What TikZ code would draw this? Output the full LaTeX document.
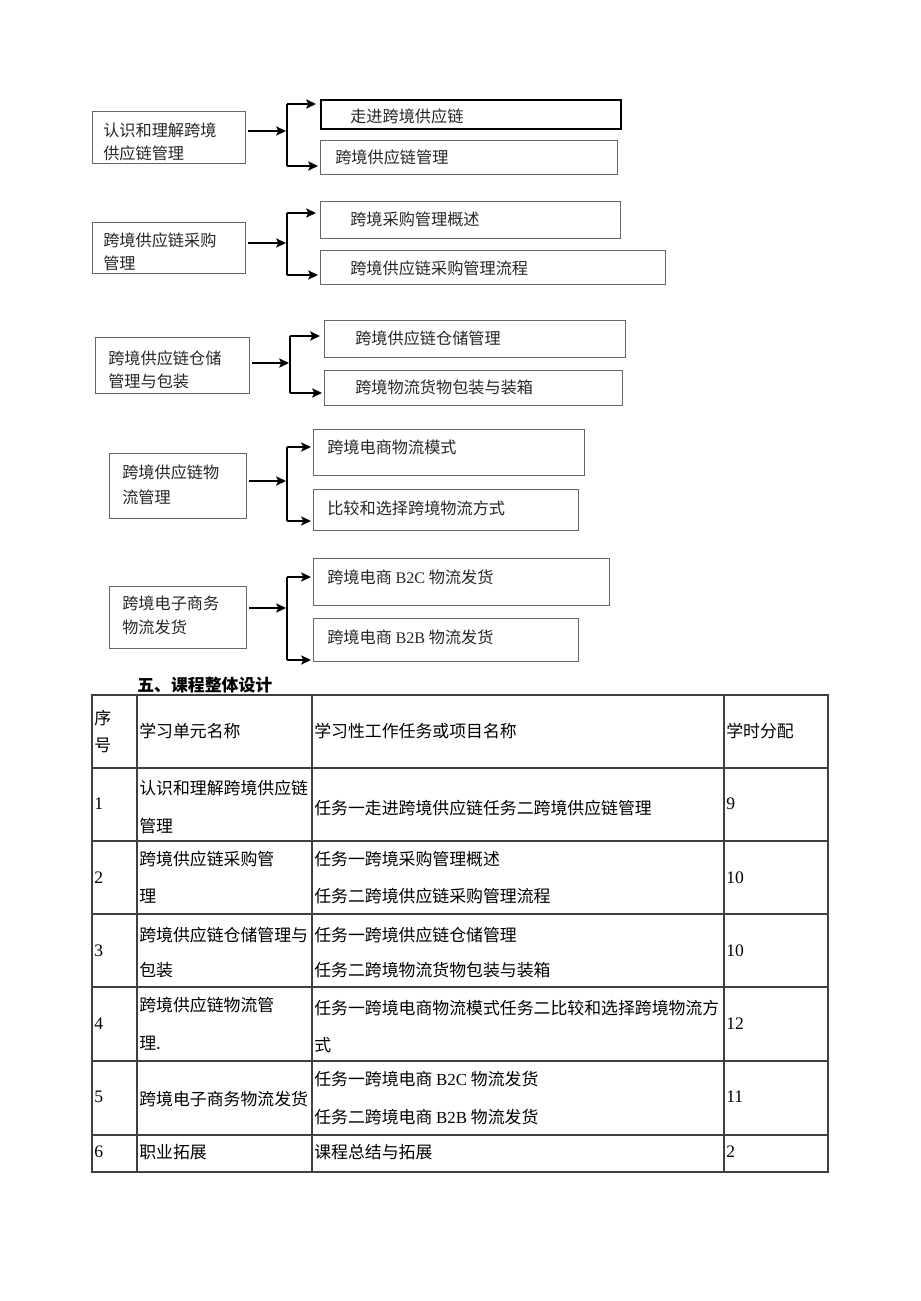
\documentclass[tikz,border=0pt]{standalone}
\usepackage{fontspec}
\setmainfont{Liberation Serif}
\newfontfamily\cjk{Noto Sans CJK SC}
\usetikzlibrary{arrows.meta,positioning}

\begin{document}
\begin{tikzpicture}[x=0.025cm,y=-0.025cm]
\tikzstyle{caja}=[draw=black!60, line width=0.8pt, anchor=north west, inner sep=0pt]
\tikzstyle{dim}=[minimum width=#1*0.025cm]
\tikzstyle{alto}=[minimum height=#1*0.025cm]
\tikzstyle{txt}=[anchor=west, inner sep=0pt, font=\cjk\fontsize{11.5}{13}\selectfont, text=black!85]
\tikzstyle{celda}=[anchor=west, inner sep=0pt, font=\cjk\fontsize{12}{14}\selectfont]
\tikzstyle{num}=[anchor=west, inner sep=0pt, font=\rmfamily\fontsize{12.5}{14}\selectfont]
\tikzstyle{flecha}=[-{Stealth[length=7pt,width=6.5pt,inset=1.5pt]}, line width=1.1pt]
\tikzstyle{llave}=[line width=1.1pt]
\tikzstyle{tabla}=[draw=black!75, line width=0.8pt]

\useasboundingbox (0,0) rectangle (920,1301);

%%%%%%%%%%%%%%%%%%%%%%%%%%%%%%
%%%%% MAPA DE UNIDADES

%%%%% UNIDAD 1
\node[caja, dim=153, alto=52] (u_1) at (92,111) {};
\node[txt] (u_1a) at (103,130) {认识和理解跨境};
\node[txt] (u_1b) at (103,153) {供应链管理};
\node[caja, dim=300, alto=29, draw=black, line width=1.3pt] (t_11) at (320,99) {};
\node[txt] (t_11a) at (350,116) {走进跨境供应链};
\node[caja, dim=297, alto=34] (t_12) at (320,140) {};
\node[txt] (t_12a) at (335,157) {跨境供应链管理};

\coordinate (a_1) at (248,131);
\coordinate (j_1) at (286,131);
\coordinate (b_1) at (287,104);
\coordinate (c_1) at (287,166);
\draw[flecha] (a_1) -- (j_1);
\draw[llave] (b_1) -- (c_1);
\draw[flecha] (b_1) -- ([xshift=-0.1cm]b_1 -| t_11.west);
\draw[flecha] (c_1) -- ([xshift=-0.05cm]c_1 -| t_12.west);

%%%%% UNIDAD 2
\node[caja, dim=153, alto=51] (u_2) at (92,222) {};
\node[txt] (u_2a) at (103,240) {跨境供应链采购};
\node[txt] (u_2b) at (103,263) {管理};
\node[caja, dim=300, alto=37] (t_21) at (320,201) {};
\node[txt] (t_21a) at (350,219) {跨境采购管理概述};
\node[caja, dim=345, alto=34] (t_22) at (320,250) {};
\node[txt] (t_22a) at (350,268) {跨境供应链采购管理流程};

\coordinate (a_2) at (248,243);
\coordinate (j_2) at (286,243);
\coordinate (b_2) at (287,213);
\coordinate (c_2) at (287,275);
\draw[flecha] (a_2) -- (j_2);
\draw[llave] (b_2) -- (c_2);
\draw[flecha] (b_2) -- ([xshift=-0.1cm]b_2 -| t_21.west);
\draw[flecha] (c_2) -- ([xshift=-0.05cm]c_2 -| t_22.west);

%%%%% UNIDAD 3
\node[caja, dim=154, alto=56] (u_3) at (95,337) {};
\node[txt] (u_3a) at (108,358) {跨境供应链仓储};
\node[txt] (u_3b) at (108,381) {管理与包装};
\node[caja, dim=301, alto=37] (t_31) at (324,320) {};
\node[txt] (t_31a) at (355,338) {跨境供应链仓储管理};
\node[caja, dim=298, alto=35] (t_32) at (324,370) {};
\node[txt] (t_32a) at (355,387) {跨境物流货物包装与装箱};

\coordinate (a_3) at (252,363);
\coordinate (j_3) at (289,363);
\coordinate (b_3) at (290,336);
\coordinate (c_3) at (290,393);
\draw[flecha] (a_3) -- (j_3);
\draw[llave] (b_3) -- (c_3);
\draw[flecha] (b_3) -- ([xshift=-0.1cm]b_3 -| t_31.west);
\draw[flecha] (c_3) -- ([xshift=-0.05cm]c_3 -| t_32.west);

%%%%% UNIDAD 4
\node[caja, dim=137, alto=65] (u_4) at (109,453) {};
\node[txt] (u_4a) at (122,472) {跨境供应链物};
\node[txt] (u_4b) at (122,497) {流管理};
\node[caja, dim=271, alto=46] (t_41) at (313,429) {};
\node[txt] (t_41a) at (327,447) {跨境电商物流模式};
\node[caja, dim=265, alto=41] (t_42) at (313,489) {};
\node[txt] (t_42a) at (327,508) {比较和选择跨境物流方式};

\coordinate (a_4) at (249,481);
\coordinate (j_4) at (286,481);
\coordinate (b_4) at (287,447);
\coordinate (c_4) at (287,521);
\draw[flecha] (a_4) -- (j_4);
\draw[llave] (b_4) -- (c_4);
\draw[flecha] (b_4) -- ([xshift=-0.05cm]b_4 -| t_41.west);
\draw[flecha] (c_4) -- ([xshift=-0.05cm]c_4 -| t_42.west);

%%%%% UNIDAD 5
\node[caja, dim=137, alto=62] (u_5) at (109,586) {};
\node[txt] (u_5a) at (122,603) {跨境电子商务};
\node[txt] (u_5b) at (122,627) {物流发货};
\node[caja, dim=296, alto=47] (t_51) at (313,558) {};
\node[txt] (t_51a) at (327,577) {跨境电商 {\rmfamily B2C} 物流发货};
\node[caja, dim=265, alto=43] (t_52) at (313,618) {};
\node[txt] (t_52a) at (327,637) {跨境电商 {\rmfamily B2B} 物流发货};

\coordinate (a_5) at (249,608);
\coordinate (j_5) at (286,608);
\coordinate (b_5) at (287,577);
\coordinate (c_5) at (287,660);
\draw[flecha] (a_5) -- (j_5);
\draw[llave] (b_5) -- (c_5);
\draw[flecha] (b_5) -- ([xshift=-0.05cm]b_5 -| t_51.west);
\draw[flecha] (c_5) -- ([xshift=-0.05cm]c_5 -| t_52.west);

%%%%%%%%%%%%%%%%%%%%%%%%%%%%%%
%%%%% DISEÑO DEL CURSO
\node[celda, font=\cjk\bfseries\fontsize{12}{14}\selectfont] (titulo) at (137,685) {五、课程整体设计};

%%%%% REJILLA
\draw[tabla] (92,695) rectangle (828,1172);
\draw[tabla] (137,695) -- (137,1172);
\draw[tabla] (312,695) -- (312,1172);
\draw[tabla] (724,695) -- (724,1172);
\draw[tabla] (92,768) -- (828,768);
\draw[tabla] (92,841) -- (828,841);
\draw[tabla] (92,914) -- (828,914);
\draw[tabla] (92,987) -- (828,987);
\draw[tabla] (92,1061) -- (828,1061);
\draw[tabla] (92,1135) -- (828,1135);

%%%%% CABECERA
\node[celda] (h_1a) at (94,718) {序};
\node[celda] (h_1b) at (94,745) {号};
\node[celda] (h_2) at (139,731) {学习单元名称};
\node[celda] (h_3) at (314,731) {学习性工作任务或项目名称};
\node[celda] (h_4) at (726,731) {学时分配};

%%%%% FILA 1
\node[num] (n_1) at (94,804) {1};
\node[celda] (r_1a) at (139,788) {认识和理解跨境供应链};
\node[celda] (r_1b) at (139,826) {管理};
\node[celda] (s_1a) at (314,808) {任务一走进跨境供应链任务二跨境供应链管理};
\node[num] (h_1) at (726,804) {9};

%%%%% FILA 2
\node[num] (n_2) at (94,878) {2};
\node[celda] (r_2a) at (139,859) {跨境供应链采购管};
\node[celda] (r_2b) at (139,896) {理};
\node[celda] (s_2a) at (314,859) {任务一跨境采购管理概述};
\node[celda] (s_2b) at (314,896) {任务二跨境供应链采购管理流程};
\node[num] (h_2n) at (726,878) {10};

%%%%% FILA 3
\node[num] (n_3) at (94,951) {3};
\node[celda] (r_3a) at (139,935) {跨境供应链仓储管理与};
\node[celda] (r_3b) at (139,970) {包装};
\node[celda] (s_3a) at (314,935) {任务一跨境供应链仓储管理};
\node[celda] (s_3b) at (314,970) {任务二跨境物流货物包装与装箱};
\node[num] (h_3n) at (726,951) {10};

%%%%% FILA 4
\node[num] (n_4) at (94,1024) {4};
\node[celda] (r_4a) at (139,1005) {跨境供应链物流管};
\node[celda] (r_4b) at (139,1043) {理.};
\node[celda] (s_4a) at (314,1008) {任务一跨境电商物流模式任务二比较和选择跨境物流方};
\node[celda] (s_4b) at (314,1045) {式};
\node[num] (h_4n) at (726,1024) {12};

%%%%% FILA 5
\node[num] (n_5) at (94,1097) {5};
\node[celda] (r_5a) at (139,1099) {跨境电子商务物流发货};
\node[celda] (s_5a) at (314,1079) {任务一跨境电商 {\rmfamily B2C} 物流发货};
\node[celda] (s_5b) at (314,1117) {任务二跨境电商 {\rmfamily B2B} 物流发货};
\node[num] (h_5n) at (726,1097) {11};

%%%%% FILA 6
\node[num] (n_6) at (94,1152) {6};
\node[celda] (r_6a) at (139,1152) {职业拓展};
\node[celda] (s_6a) at (314,1152) {课程总结与拓展};
\node[num] (h_6n) at (726,1152) {2};

\end{tikzpicture}
\end{document}
